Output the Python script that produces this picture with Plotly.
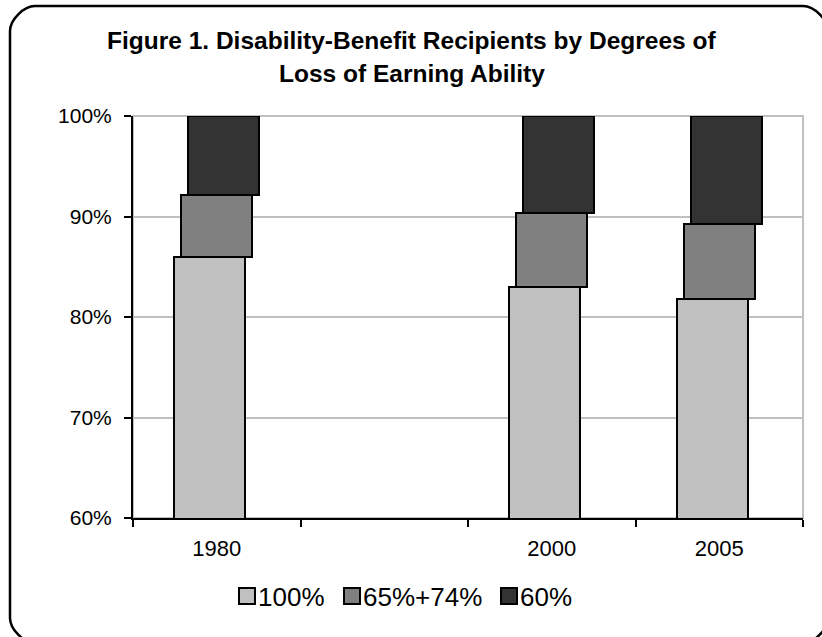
import plotly.graph_objects as go

# Recipients by degree of loss of earning ability, share of all recipients (%)
years = ["1980", " ", "2000", "2005"]
loss_100 = [86.0, None, 83.0, 81.8]
loss_65_74 = [6.1, None, 7.3, 7.5]
loss_60 = [7.9, None, 9.7, 10.7]
series_names = ["100%", "65%+74%", "60%"]
y_ticks = [60, 70, 80, 90, 100]
y_tick_labels = [f"{v}%" for v in y_ticks]

colors = ["#c0c0c0", "#808080", "#333333"]
offsets = [-0.255, -0.211, -0.171]
bar_width = 0.424
FONT = "Liberation Sans, Arial, sans-serif"

W, H = 822, 637
L, R, T, B = 133, 803, 116, 518   # plot area in pixels


def px(x):
    return (x - L) / (R - L)


def py(y):
    return (B - y) / (B - T)


fig = go.Figure()
for name, vals, col, off in zip(series_names, [loss_100, loss_65_74, loss_60], colors, offsets):
    fig.add_trace(go.Bar(
        x=years, y=vals, name=name, offset=off, width=bar_width,
        marker=dict(color=col, line=dict(color="black", width=2)),
        showlegend=False,
    ))

shapes = [
    # plot area frame
    dict(type="rect", xref="paper", yref="paper", x0=0, x1=1, y0=0, y1=1,
         line=dict(color="#c0c0c0", width=2), layer="below"),
]

# rounded chart-area border
x0, x1, y0, y1, r = 10, 828, 6, 643, 25
k = 0.45 * r
path = (
    f"M {px(x0 + r)},{py(y0)} L {px(x1 - r)},{py(y0)} "
    f"C {px(x1 - r + k)},{py(y0)} {px(x1)},{py(y0 + r - k)} {px(x1)},{py(y0 + r)} "
    f"L {px(x1)},{py(y1 - r)} "
    f"C {px(x1)},{py(y1 - r + k)} {px(x1 - r + k)},{py(y1)} {px(x1 - r)},{py(y1)} "
    f"L {px(x0 + r)},{py(y1)} "
    f"C {px(x0 + r - k)},{py(y1)} {px(x0)},{py(y1 - r + k)} {px(x0)},{py(y1 - r)} "
    f"L {px(x0)},{py(y0 + r)} "
    f"C {px(x0)},{py(y0 + r - k)} {px(x0 + r - k)},{py(y0)} {px(x0 + r)},{py(y0)} Z"
)
shapes.append(dict(type="path", xref="paper", yref="paper", path=path,
                   line=dict(color="black", width=2.5), layer="above"))

# legend keys
legend_boxes = [(239, 255), (344, 360), (501, 517)]
legend_text_x = [256, 361, 518]
annotations = []
for (a, b), tx, name, col in zip(legend_boxes, legend_text_x, series_names, colors):
    shapes.append(dict(type="rect", xref="paper", yref="paper",
                       x0=px(a), x1=px(b), y0=py(604), y1=py(588),
                       fillcolor=col, line=dict(color="black", width=2)))
    annotations.append(dict(x=px(tx), y=py(596.5), xref="paper", yref="paper",
                            xanchor="left", yanchor="middle", showarrow=False,
                            text=name, font=dict(family=FONT, size=26, color="black")))

# two-line title
annotations.append(dict(x=px(411.5), xref="paper", y=py(40.5), yref="paper", xanchor="center",
                        yanchor="middle", showarrow=False,
                        text="<b>Figure 1. Disability-Benefit Recipients by Degrees of</b>",
                        font=dict(family=FONT, size=24.5, color="black")))
annotations.append(dict(x=px(411.5), xref="paper", y=py(73.5), yref="paper", xanchor="center",
                        yanchor="middle", showarrow=False,
                        text="<b>Loss of Earning Ability</b>",
                        font=dict(family=FONT, size=24.5, color="black")))

fig.update_layout(
    width=W, height=H,
    margin=dict(l=L, r=W - R, t=T, b=H - B, pad=0),
    barmode="stack",
    plot_bgcolor="white", paper_bgcolor="white",
    showlegend=False,
    shapes=shapes, annotations=annotations,
    font=dict(family=FONT, size=22, color="black"),
    xaxis=dict(
        type="category", categoryorder="array", categoryarray=years,
        range=[-0.5, 3.5],
        showline=True, linecolor="black", linewidth=2,
        ticks="outside", tickson="boundaries", ticklen=7, tickwidth=2, tickcolor="black",
        ticklabelstandoff=10,
        showgrid=False, tickfont=dict(family=FONT, size=22, color="black"),
    ),
    yaxis=dict(
        range=[60, 100], tickvals=y_ticks, ticktext=y_tick_labels,
        showline=True, linecolor="black", linewidth=2,
        ticks="outside", ticklen=7, tickwidth=2, tickcolor="black",
        ticklabelstandoff=8,
        showgrid=True, gridcolor="#c0c0c0", gridwidth=2, zeroline=False,
        tickfont=dict(family=FONT, size=21, color="black"),
    ),
)

fig.write_html("out.html")
